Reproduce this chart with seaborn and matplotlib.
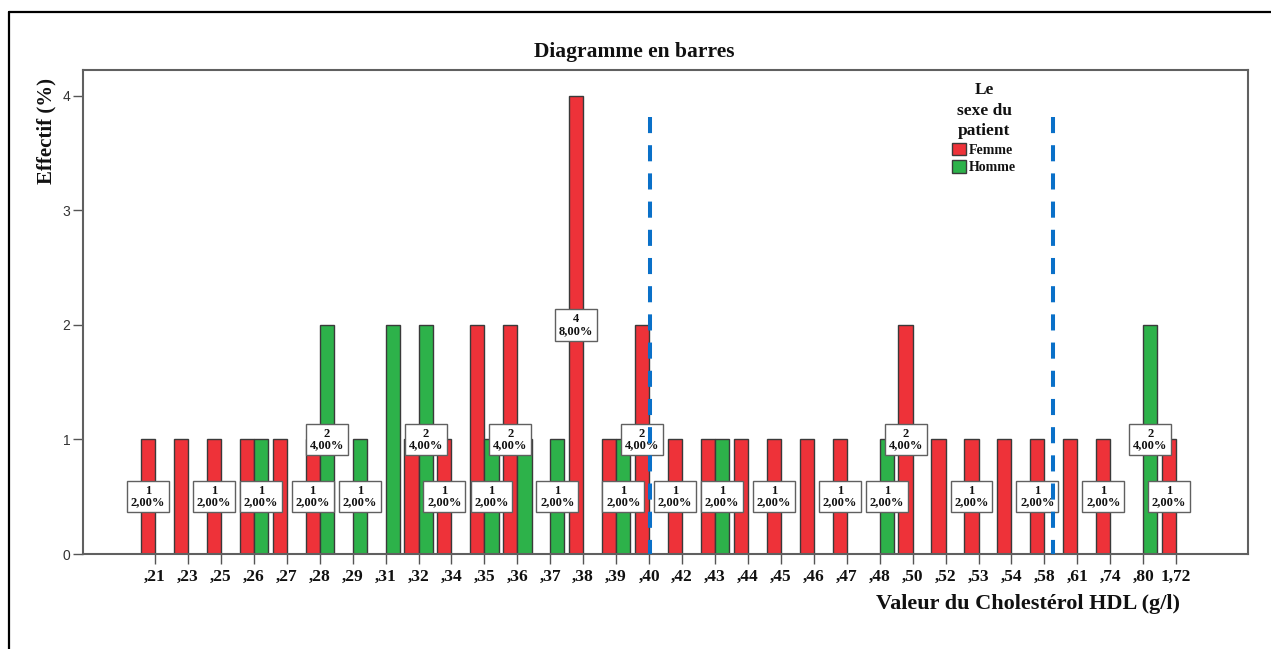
import matplotlib
matplotlib.use('Agg')
import matplotlib.pyplot as plt
import matplotlib.patches as mpatches
from matplotlib.lines import Line2D
import seaborn as sns
import pandas as pd

# HDL cholesterol values (g/l), as printed on the axis
categories = [',21', ',23', ',25', ',26', ',27', ',28', ',29', ',31', ',32', ',34',
              ',35', ',36', ',37', ',38', ',39', ',40', ',42', ',43', ',44', ',45',
              ',46', ',47', ',48', ',50', ',52', ',53', ',54', ',58', ',61', ',74',
              ',80', '1,72']
# counts per sex
femme = [1, 1, 1, 1, 1, 1, 0, 0, 1, 1,
         2, 2, 0, 4, 1, 2, 1, 1, 1, 1,
         1, 1, 0, 2, 1, 1, 1, 1, 1, 1,
         0, 1]
homme = [0, 0, 0, 1, 0, 2, 1, 2, 2, 0,
         1, 1, 1, 0, 1, 0, 0, 1, 0, 0,
         0, 0, 1, 0, 0, 0, 0, 0, 0, 0,
         2, 0]
# which bars carry a count / percent label
femme_labelled = [1, 0, 1, 0, 0, 1, 0, 0, 0, 1,
                  0, 1, 0, 1, 0, 1, 1, 0, 0, 1,
                  0, 1, 0, 1, 0, 1, 0, 1, 0, 1,
                  0, 1]
homme_labelled = [0, 0, 0, 1, 0, 1, 1, 0, 1, 0,
                  1, 0, 1, 0, 1, 0, 0, 1, 0, 0,
                  0, 0, 1, 0, 0, 0, 0, 0, 0, 0,
                  1, 0]
sexes = ['Femme', 'Homme']
# reference lines (category index positions)
ref_lines = [15.03, 27.26]

colors = {'Femme': '#EE3239', 'Homme': '#2DB24A'}
serif = 'Liberation Serif'
sans = 'Liberation Sans'

n = len(categories)
df = pd.DataFrame({
    'HDL': categories * 2,
    'Sexe': ['Femme'] * n + ['Homme'] * n,
    'Effectif': femme + homme,
})
total = sum(femme) + sum(homme)

sns.set_theme(style='white')
fig = plt.figure(figsize=(12.71, 6.49), dpi=100)
ax = fig.add_axes([83 / 1271, 1 - 554 / 649, (1248 - 83) / 1271, (554 - 70) / 649])

sns.barplot(data=df, x='HDL', y='Effectif', hue='Sexe', order=categories,
            hue_order=sexes, palette=colors, saturation=1, width=0.86,
            edgecolor='#3a3a3a', linewidth=1, errorbar=None, legend=False, ax=ax)

flags = {'Femme': femme_labelled, 'Homme': homme_labelled}
for sexe, cont in zip(sexes, ax.containers):
    for j, bar in enumerate(cont):
        h = bar.get_height()
        if h == 0:
            bar.set_visible(False)
            continue
        if flags[sexe][j]:
            pct = f"{h / total * 100:.2f}".replace('.', ',') + '%'
            ax.text(bar.get_x() + bar.get_width() / 2, h / 2, f"{int(h)}\n{pct}",
                    ha='center', va='center', multialignment='center',
                    fontsize=9, fontweight='bold', family=serif, linespacing=0.95,
                    color='#111111', zorder=5,
                    bbox=dict(boxstyle='square,pad=0.3', fc='white', ec='#606060', lw=1))

for xv in ref_lines:
    ax.plot([xv, xv], [3.82, 0], color='#0A70C8', lw=2.9, dashes=(4.0, 3.0),
            solid_capstyle='butt', zorder=6)

ax.set_xlim(-2.186, 33.18)
ax.set_ylim(0, 4.227)
ax.set_yticks([0, 1, 2, 3, 4])
ax.set_xlabel('')
ax.set_ylabel('')
for s in ax.spines.values():
    s.set_color('#606060')
    s.set_linewidth(1.5)
ax.tick_params(axis='x', direction='out', length=7, width=1, color='#555555', pad=4,
               bottom=True)
ax.tick_params(axis='y', direction='out', length=7, width=1, color='#555555', pad=2,
               left=True)
for lab in ax.get_xticklabels():
    lab.set_fontfamily(serif)
    lab.set_fontweight('bold')
    lab.set_fontsize(12.5)
    lab.set_color('#111111')
for lab in ax.get_yticklabels():
    lab.set_fontfamily(sans)
    lab.set_fontsize(10)
    lab.set_color('#333333')

handles = [mpatches.Patch(facecolor=colors[s], edgecolor='#3a3a3a', lw=1) for s in sexes]
leg = ax.legend(handles, sexes, title='Le\nsexe du\npatient', frameon=False,
                loc='upper center', bbox_to_anchor=(0.7735, 0.99),
                handlelength=1.0, handleheight=1.0, handletextpad=0.2,
                labelspacing=0.25, borderpad=0,
                prop={'family': serif, 'weight': 'bold', 'size': 10},
                title_fontproperties={'family': serif, 'weight': 'bold', 'size': 12.5})
leg.get_title().set_multialignment('center')
leg.get_title().set_linespacing(1.4)
leg.get_title().set_color('#111111')
for t in leg.get_texts():
    t.set_color('#111111')

fig.text(634.5 / 1271, 1 - 52 / 649, 'Diagramme en barres', ha='center', va='center',
         family=serif, fontweight='bold', fontsize=15.5, color='#111111')
fig.text(1028.5 / 1271, 1 - 604 / 649, 'Valeur du Cholestérol HDL (g/l)', ha='center',
         va='center', family=serif, fontweight='bold', fontsize=16, color='#111111')
fig.text(46 / 1271, 1 - 130.5 / 649, 'Effectif (%)', ha='center', va='center',
         rotation=90, family=serif, fontweight='bold', fontsize=15, color='#111111')

# outer frame (top and left edges)
fig.add_artist(Line2D([9 / 1271, 1], [1 - 12 / 649, 1 - 12 / 649], color='black', lw=1.6))
fig.add_artist(Line2D([9 / 1271, 9 / 1271], [0, 1 - 12 / 649], color='black', lw=1.6))

fig.savefig('out.png', dpi=100)
